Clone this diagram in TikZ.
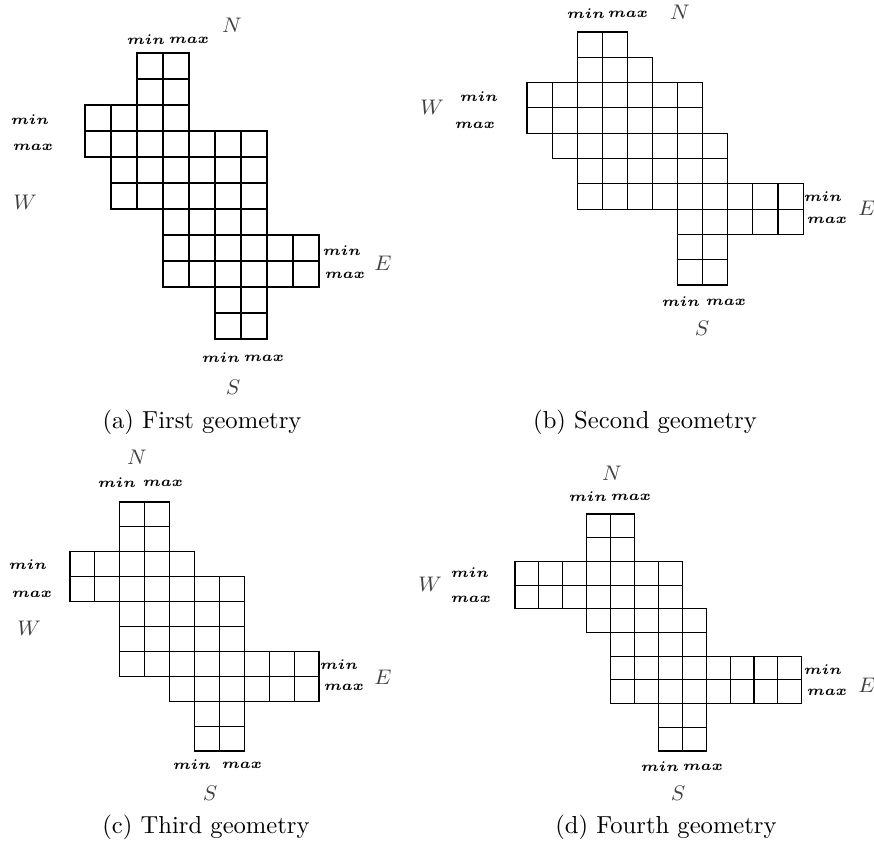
\documentclass[tikz,border=0pt]{standalone}
\usepackage{amsmath}
\usepackage{amssymb}
\usepackage{tikz}
\usetikzlibrary{positioning,calc}

\newcommand{\mn}{$\boldsymbol{min}$}
\newcommand{\mx}{$\boldsymbol{max}$}

\begin{document}
\begin{tikzpicture}[
	x=0.015cm, y=-0.015cm,
	cell/.style={
		draw=black,
		line width=0.5pt
	},
	bound/.style={
		font=\fontsize{6.1}{7}\selectfont,
		inner sep=0pt
	},
	compass/.style={
		font=\small,
		text=black!75,
		inner sep=0pt
	},
	caption/.style={
		font=\fontsize{10.5}{12}\selectfont,
		inner sep=0pt
	}
	]
	
	\useasboundingbox (0,0) rectangle (874,844);
	
	% First geometry
	\begin{scope}[shift={(85,53)}, scale=26]
		\foreach \r/\a/\b in {0/2/3, 1/2/3, 2/0/3, 3/0/6, 4/1/6, 5/1/6, 6/3/6, 7/3/8, 8/3/8, 9/5/6, 10/5/6}
			\foreach \c in {\a,...,\b}
				\draw[cell] (\c,\r) rectangle ++(1,1);
	\end{scope}
	\node[compass] (aN) at (232,25) {$N$};
	\node[bound] (aNmin) at (146,40) {\mn};
	\node[bound] (aNmax) at (189,40) {\mx};
	\node[bound] (aWmin) at (30,120) {\mn};
	\node[bound] (aWmax) at (33,147) {\mx};
	\node[compass] (aW) at (25,202) {$W$};
	\node[bound] (aEmin) at (342,251) {\mn};
	\node[bound] (aEmax) at (345,275) {\mx};
	\node[compass] (aE) at (383,263) {$E$};
	\node[bound] (aSmin) at (221,358) {\mn};
	\node[bound] (aSmax) at (264,358) {\mx};
	\node[compass] (aS) at (233,387) {$S$};
	\node[caption] (capa) at (202,422) {(a) First geometry};
	
	% Second geometry
	\begin{scope}[shift={(527,32)}, xscale=25.1, yscale=25.3]
		\foreach \r/\a/\b in {0/2/3, 1/2/4, 2/0/6, 3/0/6, 4/1/7, 5/2/7, 6/2/10, 7/6/10, 8/6/7, 9/6/7}
			\foreach \c in {\a,...,\b}
				\draw[cell] (\c,\r) rectangle ++(1,1);
	\end{scope}
	\node[compass] (bN) at (680,12) {$N$};
	\node[bound] (bNmin) at (586,14) {\mn};
	\node[bound] (bNmax) at (628,14) {\mx};
	\node[compass] (bW) at (432,107) {$W$};
	\node[bound] (bWmin) at (479,97) {\mn};
	\node[bound] (bWmax) at (475,125) {\mx};
	\node[bound] (bEmin) at (823,197) {\mn};
	\node[bound] (bEmax) at (827,220) {\mx};
	\node[compass] (bE) at (867,208) {$E$};
	\node[bound] (bSmin) at (681,302) {\mn};
	\node[bound] (bSmax) at (726,302) {\mx};
	\node[compass] (bS) at (702,328) {$S$};
	\node[caption] (capb) at (645,422) {(b) Second geometry};
	
	% Third geometry
	\begin{scope}[shift={(70,502)}, scale=24.9]
		\foreach \r/\a/\b in {0/2/3, 1/2/3, 2/0/4, 3/0/6, 4/2/6, 5/2/6, 6/2/9, 7/4/9, 8/5/6, 9/5/6}
			\foreach \c in {\a,...,\b}
				\draw[cell] (\c,\r) rectangle ++(1,1);
	\end{scope}
	\node[compass] (cN) at (137,457) {$N$};
	\node[bound] (cNmin) at (117,483) {\mn};
	\node[bound] (cNmax) at (163,483) {\mx};
	\node[bound] (cWmin) at (28,565) {\mn};
	\node[bound] (cWmax) at (32,594) {\mx};
	\node[compass] (cW) at (29,628) {$W$};
	\node[bound] (cEmin) at (339,665) {\mn};
	\node[bound] (cEmax) at (344,687) {\mx};
	\node[compass] (cE) at (383,677) {$E$};
	\node[bound] (cSmin) at (192,765) {\mn};
	\node[bound] (cSmax) at (242,765) {\mx};
	\node[compass] (cS) at (210,793) {$S$};
	\node[caption] (capc) at (206,827) {(c) Third geometry};
	
	% Fourth geometry
	\begin{scope}[shift={(515,514)}, xscale=23.9, yscale=23.7]
		\foreach \r/\a/\b in {0/3/4, 1/3/4, 2/0/6, 3/0/6, 4/3/7, 5/4/7, 6/4/11, 7/4/11, 8/6/7, 9/6/7}
			\foreach \c in {\a,...,\b}
				\draw[cell] (\c,\r) rectangle ++(1,1);
	\end{scope}
	\node[compass] (dN) at (612,473) {$N$};
	\node[bound] (dNmin) at (588,497) {\mn};
	\node[bound] (dNmax) at (631,497) {\mx};
	\node[compass] (dW) at (430,584) {$W$};
	\node[bound] (dWmin) at (470,573) {\mn};
	\node[bound] (dWmax) at (471,599) {\mx};
	\node[bound] (dEmin) at (823,670) {\mn};
	\node[bound] (dEmax) at (827,692) {\mx};
	\node[compass] (dE) at (867,685) {$E$};
	\node[bound] (dSmin) at (660,767) {\mn};
	\node[bound] (dSmax) at (703,767) {\mx};
	\node[compass] (dS) at (678,793) {$S$};
	\node[caption] (capd) at (666,827) {(d) Fourth geometry};
	
\end{tikzpicture}
\end{document}
